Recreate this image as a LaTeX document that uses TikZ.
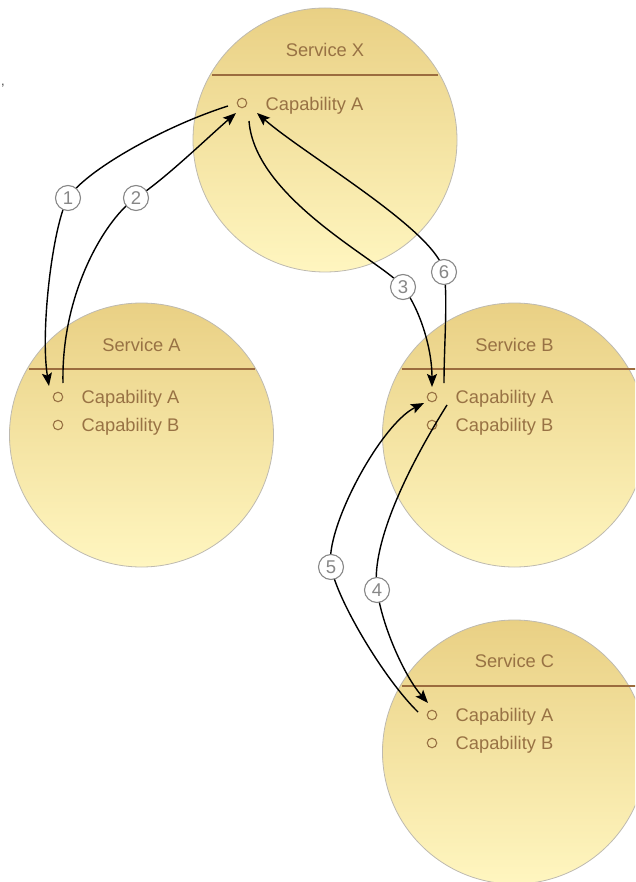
\documentclass[tikz,border=0pt]{standalone}
\usepackage{fontspec}
\setmainfont{Liberation Sans}
\usetikzlibrary{arrows.meta}
\definecolor{brn}{RGB}{152,114,68}
\definecolor{brnline}{RGB}{155,108,62}
\definecolor{ctop}{RGB}{233,208,132}
\definecolor{cbot}{RGB}{255,246,192}
\definecolor{cedge}{RGB}{190,186,176}
\definecolor{numgray}{RGB}{135,135,135}
\begin{document}
\begin{tikzpicture}[x=1pt,y=-1pt,
 svc/.style={circle, minimum size=264pt, inner sep=0pt, draw=cedge, line width=0.8pt, top color=ctop, bottom color=cbot},
 title/.style={text=brn, font=\fontsize{18.3}{20}\selectfont, anchor=base, inner sep=0pt},
 captext/.style={text=brn, font=\fontsize{18.3}{20}\selectfont, anchor=base west, inner sep=0pt},
 capdot/.style={circle, draw=brn, line width=1.1pt, minimum size=9.5pt, inner sep=0pt},
 hdr/.style={draw=brnline, line width=2pt},
 conn/.style={draw=black, line width=1.4pt, -{Stealth[length=13pt,width=10pt,inset=2.5pt]}},
 numc/.style={circle, draw=numgray, fill=white, line width=1.1pt, minimum size=25pt, inner sep=0pt, text=numgray, font=\fontsize{18.5}{20}\selectfont}]
\useasboundingbox (0,0) rectangle (635,882);
\begin{scope}
\clip (0,0) rectangle (635,882);
% services
\node[svc] (X) at (325,140) {};
\node[svc] (A) at (141.5,435) {};
\node[svc] (B) at (514.5,435) {};
\node[svc] (C) at (514.5,752) {};
\draw[hdr] ([shift={(-113,-65)}]X.center) -- ([shift={(113,-65)}]X.center);
\draw[hdr] ([shift={(-113,-66)}]A.center) -- ([shift={(113,-66)}]A.center);
\draw[hdr] ([shift={(-113,-66)}]B.center) -- ([shift={(140,-66)}]B.center);
\draw[hdr] ([shift={(-113,-66)}]C.center) -- ([shift={(140,-66)}]C.center);
\end{scope}
\node[title] (tX) at (325,56.5) {Service X};
\node[title] (tA) at (141.5,351.5) {Service A};
\node[title] (tB) at (514.5,351.5) {Service B};
\node[title] (tC) at (514.5,667.5) {Service C};
% capabilities
\node[capdot] (xA) at (242,103) {};
\node[captext] (xAt) at (265.5,110.5) {Capability A};
\node[capdot] (aA) at (58,397) {};
\node[captext] (aAt) at (81.5,403.5) {Capability A};
\node[capdot] (aB) at (58,425) {};
\node[captext] (aBt) at (81.5,431.5) {Capability B};
\node[capdot] (bA) at (432,397) {};
\node[captext] (bAt) at (455.5,403.5) {Capability A};
\node[capdot] (bB) at (432,425) {};
\node[captext] (bBt) at (455.5,431.5) {Capability B};
\node[capdot] (cA) at (432,715) {};
\node[captext] (cAt) at (455.5,721.5) {Capability A};
\node[capdot] (cB) at (432,743) {};
\node[captext] (cBt) at (455.5,749.5) {Capability B};
% stray mark
\node[font=\fontsize{13}{13}\selectfont, text=black!75, inner sep=0pt] (mark) at (3,86) {,};
% number positions
\coordinate (n1) at (68,198);
\coordinate (n2) at (136,198);
\coordinate (n3) at (403,287);
\coordinate (n4) at (377,590);
\coordinate (n5) at (331,567);
\coordinate (n6) at (444,272);
% connectors
\draw[conn] ([shift={(-14,3)}]xA.center) .. controls (165,126) and (86,170) .. (n1)
  .. controls (53,224) and (40,330) .. ([shift={(-9,-11)}]aA.center);
\draw[conn] ([shift={(5,-14)}]aA.center) .. controls (61,290) and (108,216) .. (n2)
  .. controls (165,179) and (205,140) .. ([shift={(-6,10)}]xA.center);
\draw[conn] ([shift={(7,18)}]xA.center) .. controls (255,200) and (385,263) .. (n3)
  .. controls (421,311) and (432,350) .. ([shift={(0,-10)}]bA.center);
\draw[conn] ([shift={(12,-14)}]bA.center) .. controls (444,345) and (448,298) .. (n6)
  .. controls (438,232) and (305,155) .. ([shift={(15,10)}]xA.center);
\draw[conn] ([shift={(15,8)}]bA.center) .. controls (400,480) and (371,550) .. (n4)
  .. controls (383,630) and (406,678) .. ([shift={(-4,-12)}]cA.center);
\draw[conn] ([shift={(-14,-3)}]cA.center) .. controls (385,680) and (338,602) .. (n5)
  .. controls (324,530) and (380,425) .. ([shift={(-8,6)}]bA.center);
% number labels
\node[numc] (l1) at (n1) {1};
\node[numc] (l2) at (n2) {2};
\node[numc] (l3) at (n3) {3};
\node[numc] (l4) at (n4) {4};
\node[numc] (l5) at (n5) {5};
\node[numc] (l6) at (n6) {6};
\end{tikzpicture}
\end{document}
